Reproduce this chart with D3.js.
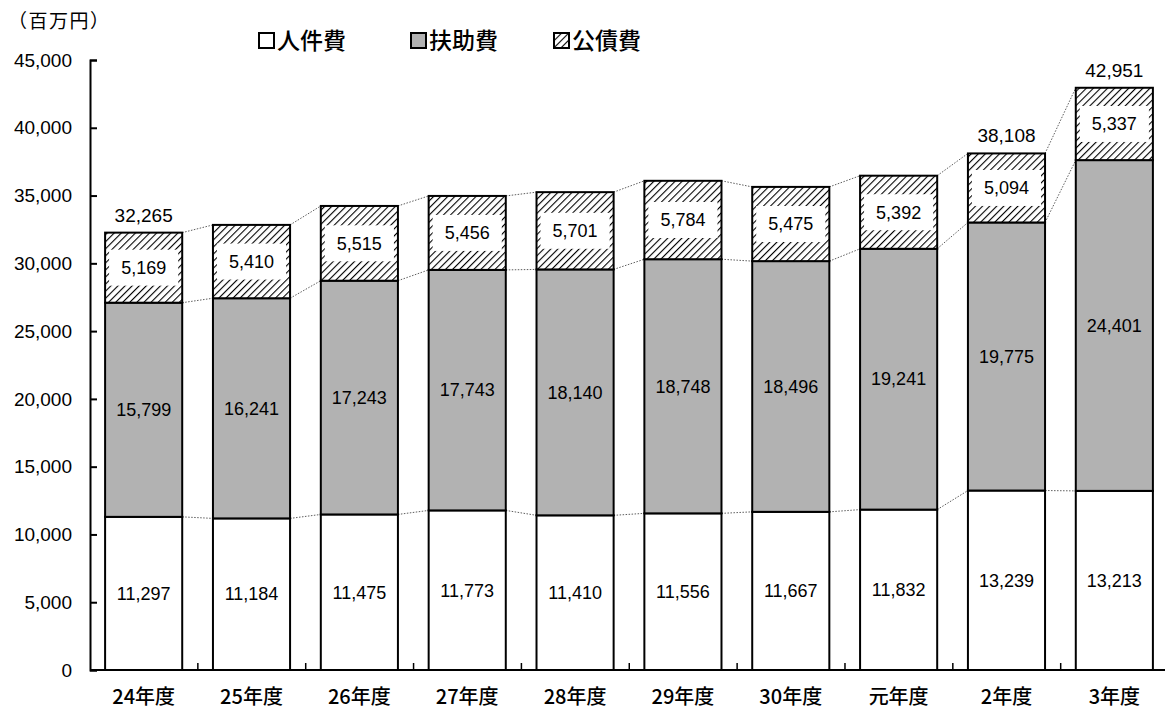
<!DOCTYPE html>
<html>
<head>
<meta charset="utf-8">
<script src="https://cdn.jsdelivr.net/npm/d3@7"></script>
<style>
  body { margin: 0; background: #fff; }
  text { font-family: "Liberation Sans", Arial, sans-serif; }
  .jp { font-family: "Noto Sans CJK JP", sans-serif; }
</style>
</head>
<body>
<div id="chart"></div>
<script>
// data
var years = ["24年度", "25年度", "26年度", "27年度", "28年度", "29年度", "30年度", "元年度", "2年度", "3年度"];
var jinken = [11297, 11184, 11475, 11773, 11410, 11556, 11667, 11832, 13239, 13213];
var fujo = [15799, 16241, 17243, 17743, 18140, 18748, 18496, 19241, 19775, 24401];
var kosai = [5169, 5410, 5515, 5456, 5701, 5784, 5475, 5392, 5094, 5337];
var showTotal = ["24年度", "2年度", "3年度"];
var seriesNames = ["人件費", "扶助費", "公債費"];
var yTicks = [0, 5000, 10000, 15000, 20000, 25000, 30000, 35000, 40000, 45000];

var width = 1165;
var height = 713;
var plotLeft = 90;
var plotRight = 1168;
var plotTop = 60;
var plotBottom = 670;

var svg = d3.select("#chart").append("svg")
  .attr("width", width)
  .attr("height", height);

var defs = svg.append("defs");
var pat = defs.append("pattern")
  .attr("id", "hatch")
  .attr("patternUnits", "userSpaceOnUse")
  .attr("width", 5)
  .attr("height", 5)
  .attr("patternTransform", "rotate(45)");
pat.append("rect").attr("width", 5).attr("height", 5).attr("fill", "#fff");
pat.append("line")
  .attr("x1", 0).attr("y1", 0).attr("x2", 0).attr("y2", 5)
  .attr("stroke", "#000").attr("stroke-width", 2.2);

var x = d3.scaleBand().domain(years).range([plotLeft, plotRight]).paddingInner(0.285).paddingOuter(0.14);
var y = d3.scaleLinear().domain([0, 45000]).range([plotBottom, plotTop]);

var rows = years.map(function(d, i) {
  return { year: d, a: jinken[i], b: fujo[i], c: kosai[i] };
});
var stack = d3.stack().keys(["a", "b", "c"])(rows);
var fills = ["#fff", "#b2b2b2", "url(#hatch)"];

// dotted connector lines between bars
stack.forEach(function(layer) {
  for (var i = 0; i < layer.length - 1; i++) {
    svg.append("line")
      .attr("x1", x(years[i]) + x.bandwidth())
      .attr("y1", y(layer[i][1]))
      .attr("x2", x(years[i + 1]))
      .attr("y2", y(layer[i + 1][1]))
      .attr("stroke", "#333")
      .attr("stroke-width", 0.8)
      .attr("stroke-dasharray", "1.5,1.5");
  }
});

// bars
stack.forEach(function(layer, k) {
  svg.append("g").selectAll("rect")
    .data(layer)
    .enter()
    .append("rect")
    .attr("x", function(d) { return x(d.data.year); })
    .attr("y", function(d) { return y(d[1]); })
    .attr("width", x.bandwidth())
    .attr("height", function(d) { return y(d[0]) - y(d[1]); })
    .attr("fill", fills[k])
    .attr("stroke", "#000")
    .attr("stroke-width", 2);
});

// segment labels
var fmt = d3.format(",");
stack.forEach(function(layer, k) {
  layer.forEach(function(d) {
    var cx = x(d.data.year) + x.bandwidth() / 2;
    var cy = (y(d[0]) + y(d[1])) / 2;
    var val = d[1] - d[0];
    if (k === 2) {
      svg.append("rect")
        .attr("x", cx - x.bandwidth() / 2 + 4)
        .attr("y", cy - 18)
        .attr("width", x.bandwidth() - 8)
        .attr("height", 36)
        .attr("fill", "#fff");
    }
    svg.append("text")
      .attr("x", cx)
      .attr("y", cy)
      .attr("dy", "0.35em")
      .attr("text-anchor", "middle")
      .attr("font-size", 18)
      .text(fmt(val));
  });
});

// totals
stack[2].forEach(function(d) {
  if (showTotal.indexOf(d.data.year) >= 0) {
    svg.append("text")
      .attr("x", x(d.data.year) + x.bandwidth() / 2)
      .attr("y", y(d[1]) - 11)
      .attr("text-anchor", "middle")
      .attr("font-size", 19)
      .text(fmt(d[1]));
  }
});

// y axis
var yAxis = d3.axisRight(y).tickValues(yTicks).tickSize(7).tickFormat("");
var yg = svg.append("g").attr("transform", "translate(" + plotLeft + ",0)").call(yAxis);
yg.select(".domain").attr("stroke-width", 2);
yg.selectAll(".tick line").attr("stroke-width", 2);
svg.append("g").selectAll("text")
  .data(yTicks)
  .enter()
  .append("text")
  .attr("x", 72)
  .attr("y", function(d) { return y(d); })
  .attr("dy", "0.35em")
  .attr("text-anchor", "end")
  .attr("font-size", 19)
  .text(function(d) { return fmt(d); });

// x axis baseline with ticks at category boundaries
svg.append("line")
  .attr("x1", plotLeft).attr("x2", plotRight)
  .attr("y1", plotBottom).attr("y2", plotBottom)
  .attr("stroke", "#000").attr("stroke-width", 2);
var step = x.step();
for (var i = 1; i < years.length; i++) {
  svg.append("line")
    .attr("x1", plotLeft + i * step)
    .attr("x2", plotLeft + i * step)
    .attr("y1", plotBottom).attr("y2", plotBottom - 7)
    .attr("stroke", "#000").attr("stroke-width", 1.5);
}
svg.append("g").selectAll("text")
  .data(years)
  .enter()
  .append("text")
  .attr("class", "jp")
  .attr("x", function(d) { return x(d) + x.bandwidth() / 2; })
  .attr("y", 697)
  .attr("dy", "0.35em")
  .attr("text-anchor", "middle")
  .attr("font-size", 20)
  .attr("font-weight", 500)
  .text(function(d) { return d; });

// unit label
svg.append("text")
  .attr("class", "jp")
  .attr("x", 8)
  .attr("y", 21)
  .attr("dy", "0.35em")
  .attr("font-size", 19)
  .attr("letter-spacing", 1.5)
  .text("（百万円）");

// legend
var legendX = [258, 410, 553];
seriesNames.forEach(function(name, k) {
  svg.append("rect")
    .attr("x", legendX[k] + 1)
    .attr("y", 33)
    .attr("width", 15)
    .attr("height", 15)
    .attr("fill", fills[k])
    .attr("stroke", "#000")
    .attr("stroke-width", 2);
  svg.append("text")
    .attr("class", "jp")
    .attr("x", legendX[k] + 19)
    .attr("y", 41)
    .attr("dy", "0.35em")
    .attr("font-size", 23)
    .attr("font-weight", 500)
    .text(name);
});
</script>
</body>
</html>
